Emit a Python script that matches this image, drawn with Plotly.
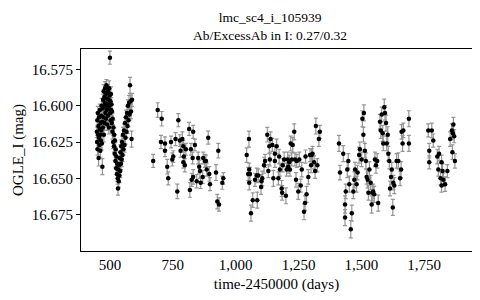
import plotly.graph_objects as go

# ---- data (time-2450000 in days, OGLE I magnitude, error) ----
seg1_day = [448, 449, 450, 451, 452, 453, 454, 455, 456, 457,
            458, 459, 460, 461, 462, 463, 464, 465, 466, 467,
            468, 469, 470, 471, 472, 473, 474, 475, 476, 477,
            478, 479, 480, 481, 482, 483, 484, 485, 486, 487,
            488, 489, 490, 491, 492, 493, 494, 495, 496, 497,
            498, 499, 500, 501, 502, 503, 504, 505, 506, 507,
            508, 510, 511, 513, 514, 516, 517, 519, 520, 522,
            523, 525, 526, 528, 529, 531, 532, 533, 535, 536,
            538, 539, 541, 542, 544, 545, 547, 548, 550, 552,
            554, 556, 558, 560, 562, 564, 566, 568, 570, 572,
            574, 576, 578, 580, 582, 584, 586, 588]
seg1_mag = [16.618, 16.625, 16.610, 16.630, 16.605, 16.620, 16.614, 16.636, 16.622, 16.608,
            16.627, 16.616, 16.603, 16.620, 16.631, 16.612, 16.624, 16.607, 16.617, 16.600,
            16.626, 16.611, 16.642, 16.602, 16.615, 16.596, 16.608, 16.590, 16.620, 16.600,
            16.594, 16.612, 16.598, 16.588, 16.605, 16.592, 16.609, 16.600, 16.586, 16.603,
            16.595, 16.613, 16.591, 16.599, 16.607, 16.590, 16.602, 16.596, 16.615, 16.588,
            16.600, 16.593, 16.567, 16.605, 16.597, 16.610, 16.592, 16.603, 16.599, 16.612,
            16.604, 16.618, 16.609, 16.625, 16.615, 16.628, 16.620, 16.633, 16.624, 16.638,
            16.630, 16.643, 16.635, 16.647, 16.640, 16.650, 16.657, 16.644, 16.652, 16.641,
            16.648, 16.636, 16.645, 16.632, 16.640, 16.628, 16.637, 16.625, 16.634, 16.620,
            16.630, 16.617, 16.627, 16.612, 16.622, 16.608, 16.618, 16.605, 16.614, 16.600,
            16.610, 16.598, 16.606, 16.586, 16.597, 16.604, 16.623, 16.596]
seg1_err = [0.004, 0.0045, 0.005, 0.004, 0.0045, 0.005, 0.004, 0.0055, 0.0045, 0.004,
            0.005, 0.0045, 0.004, 0.005, 0.0045, 0.004, 0.005, 0.0045, 0.004, 0.005,
            0.0045, 0.004, 0.0055, 0.005, 0.0045, 0.004, 0.005, 0.0045, 0.005, 0.004,
            0.0045, 0.005, 0.004, 0.0045, 0.005, 0.004, 0.0045, 0.005, 0.004, 0.0045,
            0.005, 0.004, 0.0045, 0.005, 0.004, 0.0045, 0.005, 0.004, 0.0045, 0.005,
            0.004, 0.0045, 0.0045, 0.005, 0.004, 0.0045, 0.005, 0.004, 0.0045, 0.005,
            0.0045, 0.005, 0.004, 0.0045, 0.005, 0.004, 0.0045, 0.005, 0.004, 0.0045,
            0.005, 0.0045, 0.004, 0.005, 0.0045, 0.004, 0.0045, 0.005, 0.004, 0.0045,
            0.005, 0.004, 0.0045, 0.005, 0.004, 0.0045, 0.005, 0.004, 0.0045, 0.005,
            0.004, 0.0045, 0.005, 0.004, 0.0045, 0.005, 0.004, 0.0045, 0.005, 0.004,
            0.0045, 0.005, 0.004, 0.0055, 0.0045, 0.005, 0.0055, 0.0045]

seg2_day = [672, 690, 703, 706, 719, 719, 728, 732, 743, 748,
            752, 761, 768, 772, 778, 781, 788, 792, 794, 792,
            798, 802, 815, 818, 822, 825, 829, 831, 831, 838,
            845, 851, 855, 858, 861, 869, 871, 878, 882, 885,
            891, 895, 898, 922, 927, 931, 934, 947, 951]
seg2_mag = [16.638, 16.603, 16.625, 16.609, 16.626, 16.631, 16.642, 16.650, 16.625, 16.637,
            16.635, 16.623, 16.659, 16.610, 16.624, 16.631, 16.623, 16.628, 16.635, 16.639,
            16.641, 16.630, 16.616, 16.658, 16.630, 16.651, 16.636, 16.618, 16.649, 16.627,
            16.652, 16.636, 16.642, 16.645, 16.653, 16.649, 16.636, 16.638, 16.638, 16.644,
            16.622, 16.647, 16.654, 16.646, 16.666, 16.631, 16.668, 16.653, 16.650]
seg2_err = [0.0045, 0.005, 0.0045, 0.005, 0.0045, 0.004, 0.005, 0.0045, 0.004, 0.0045,
            0.004, 0.0045, 0.005, 0.0045, 0.004, 0.0045, 0.005, 0.004, 0.0045, 0.004,
            0.0045, 0.004, 0.0045, 0.005, 0.004, 0.0045, 0.004, 0.0045, 0.005, 0.004,
            0.0045, 0.004, 0.0045, 0.005, 0.004, 0.0045, 0.004, 0.0045, 0.004, 0.0045,
            0.0045, 0.005, 0.0045, 0.0055, 0.005, 0.005, 0.0045, 0.0045, 0.004]

seg3_day = [1044, 1050, 1053, 1054, 1054, 1057, 1061, 1068, 1077, 1084,
            1086, 1090, 1101, 1103, 1106, 1113, 1117, 1126, 1130, 1134,
            1136, 1139, 1146, 1150, 1156, 1156, 1163, 1170, 1173, 1176,
            1183, 1185, 1187, 1193, 1200, 1203, 1207, 1209, 1213, 1216,
            1219, 1223, 1227, 1233, 1236, 1240, 1243, 1249, 1253, 1259,
            1263, 1272, 1276, 1278, 1282, 1289, 1296, 1300, 1302, 1306,
            1312, 1316, 1319, 1325, 1331, 1335]
seg3_mag = [16.634, 16.647, 16.623, 16.644, 16.653, 16.647, 16.674, 16.665, 16.651, 16.648,
            16.665, 16.648, 16.656, 16.652, 16.650, 16.641, 16.638, 16.620, 16.645, 16.628,
            16.637, 16.623, 16.627, 16.650, 16.633, 16.638, 16.628, 16.650, 16.635, 16.644,
            16.657, 16.660, 16.641, 16.637, 16.662, 16.644, 16.637, 16.642, 16.639, 16.644,
            16.626, 16.637, 16.627, 16.618, 16.637, 16.651, 16.638, 16.659, 16.637, 16.655,
            16.644, 16.673, 16.667, 16.635, 16.661, 16.649, 16.634, 16.641, 16.634, 16.633,
            16.639, 16.645, 16.614, 16.641, 16.623, 16.618]
seg3_err = [0.005, 0.0045, 0.0055, 0.0045, 0.005, 0.0045, 0.0055, 0.005, 0.0045, 0.005,
            0.0055, 0.0045, 0.005, 0.0045, 0.005, 0.0055, 0.0045, 0.005, 0.0045, 0.005,
            0.0045, 0.005, 0.0045, 0.0055, 0.005, 0.0045, 0.005, 0.0045, 0.005, 0.0045,
            0.0055, 0.005, 0.0045, 0.005, 0.0055, 0.0045, 0.005, 0.0045, 0.005, 0.0045,
            0.005, 0.0045, 0.005, 0.0055, 0.0045, 0.005, 0.0045, 0.0055, 0.005, 0.0045,
            0.005, 0.0055, 0.005, 0.0045, 0.0055, 0.005, 0.0045, 0.005, 0.0045, 0.005,
            0.0045, 0.005, 0.0055, 0.0045, 0.005, 0.0045]

seg4_day = [1411, 1415, 1428, 1435, 1435, 1438, 1444, 1448, 1452, 1458,
            1462, 1468, 1472, 1475, 1481, 1485, 1491, 1494, 1501, 1504,
            1508, 1510, 1514, 1518, 1521, 1525, 1528, 1532, 1537, 1541,
            1543, 1547, 1551, 1554, 1558, 1563, 1567, 1574, 1577, 1581,
            1585, 1587, 1591, 1594, 1598, 1601, 1605, 1607, 1611, 1614,
            1618, 1621, 1625, 1627, 1631, 1640, 1647, 1654, 1658, 1660,
            1664, 1667, 1689, 1689]
seg4_mag = [16.626, 16.646, 16.633, 16.668, 16.677, 16.659, 16.644, 16.638, 16.654, 16.685,
            16.674, 16.659, 16.651, 16.644, 16.654, 16.646, 16.634, 16.630, 16.637, 16.609,
            16.620, 16.605, 16.631, 16.638, 16.649, 16.651, 16.660, 16.644, 16.653, 16.668,
            16.660, 16.659, 16.661, 16.637, 16.641, 16.638, 16.667, 16.611, 16.617, 16.606,
            16.619, 16.626, 16.601, 16.605, 16.612, 16.626, 16.620, 16.633, 16.638, 16.657,
            16.649, 16.644, 16.670, 16.653, 16.655, 16.638, 16.638, 16.650, 16.644, 16.618,
            16.626, 16.617, 16.626, 16.609]
seg4_err = [0.0055, 0.005, 0.0055, 0.006, 0.0055, 0.005, 0.0055, 0.005, 0.0055, 0.006,
            0.0055, 0.005, 0.0055, 0.005, 0.0055, 0.005, 0.0055, 0.005, 0.005, 0.0055,
            0.005, 0.0055, 0.005, 0.0055, 0.005, 0.0055, 0.005, 0.0055, 0.005, 0.006,
            0.0055, 0.005, 0.0055, 0.005, 0.0055, 0.005, 0.0055, 0.005, 0.0055, 0.005,
            0.0055, 0.005, 0.0055, 0.005, 0.0055, 0.005, 0.0055, 0.005, 0.0055, 0.005,
            0.0055, 0.005, 0.0055, 0.005, 0.0055, 0.005, 0.0055, 0.005, 0.0055, 0.005,
            0.0055, 0.005, 0.0055, 0.0055]

seg5_day = [1766, 1770, 1770, 1780, 1786, 1802, 1806, 1809, 1815, 1819,
            1819, 1823, 1826, 1833, 1842, 1853, 1860, 1862, 1864, 1866,
            1869, 1872]
seg5_mag = [16.617, 16.631, 16.639, 16.617, 16.624, 16.635, 16.644, 16.633, 16.650, 16.639,
            16.655, 16.645, 16.651, 16.654, 16.645, 16.623, 16.617, 16.632, 16.619, 16.613,
            16.621, 16.638]
seg5_err = [0.0045, 0.005, 0.0045, 0.005, 0.0045, 0.005, 0.0045, 0.005, 0.0045, 0.005,
            0.0045, 0.005, 0.0045, 0.005, 0.0045, 0.005, 0.0045, 0.005, 0.0045, 0.005,
            0.0045, 0.005]

x_ticks = [500, 750, 1000, 1250, 1500, 1750]
x_ticklabels = ["500", "750", "1,000", "1,250", "1,500", "1,750"]
y_ticks = [16.575, 16.600, 16.625, 16.650, 16.675]
y_ticklabels = ["16.575", "16.600", "16.625", "16.650", "16.675"]

title_lines = ["lmc_sc4_i_105939", "Ab/ExcessAb in I: 0.27/0.32"]
x_title = "time-2450000 (days)"
y_title = "OGLE_I (mag)"

days = seg1_day + seg2_day + seg3_day + seg4_day + seg5_day
mags = seg1_mag + seg2_mag + seg3_mag + seg4_mag + seg5_mag
errs = seg1_err + seg2_err + seg3_err + seg4_err + seg5_err

FONT = "Liberation Serif"

fig = go.Figure(go.Scatter(
    x=days, y=mags, mode="markers",
    marker=dict(color="black", size=4.5),
    error_y=dict(type="data", array=errs, visible=True,
                 color="#959595", thickness=1.2, width=2),
    showlegend=False, hoverinfo="skip",
))

# page body adds an 8px offset, so margins are shifted to compensate
fig.update_layout(
    width=480, height=300,
    margin=dict(l=73, r=16, t=41, b=57, autoexpand=False),
    paper_bgcolor="white", plot_bgcolor="white",
    font=dict(family=FONT, color="black", size=15),
    annotations=[
        dict(text="<br>".join(title_lines), x=0.483, xref="paper",
             y=1.2, yref="paper", xanchor="center", yanchor="top",
             showarrow=False, borderpad=0,
             font=dict(family=FONT, size=13.5, color="black")),
    ],
)
fig.update_xaxes(
    range=[385, 1940], tickvals=x_ticks, ticktext=x_ticklabels,
    showline=True, mirror=True, linecolor="black", linewidth=1.2,
    showgrid=False, zeroline=False, ticks="",
    tickfont=dict(family=FONT, size=15, color="black"),
    title=dict(text=x_title, standoff=6, font=dict(family=FONT, size=15, color="black")),
)
fig.update_yaxes(
    range=[16.700, 16.561], tickvals=y_ticks, ticktext=y_ticklabels,
    showline=True, mirror=True, linecolor="black", linewidth=1.2,
    showgrid=False, zeroline=False, ticks="outside", ticklen=4, tickcolor="black",
    tickfont=dict(family=FONT, size=15, color="black"),
    title=dict(text=y_title, standoff=4, font=dict(family=FONT, size=15, color="black")),
)

fig.write_html("out.html")
